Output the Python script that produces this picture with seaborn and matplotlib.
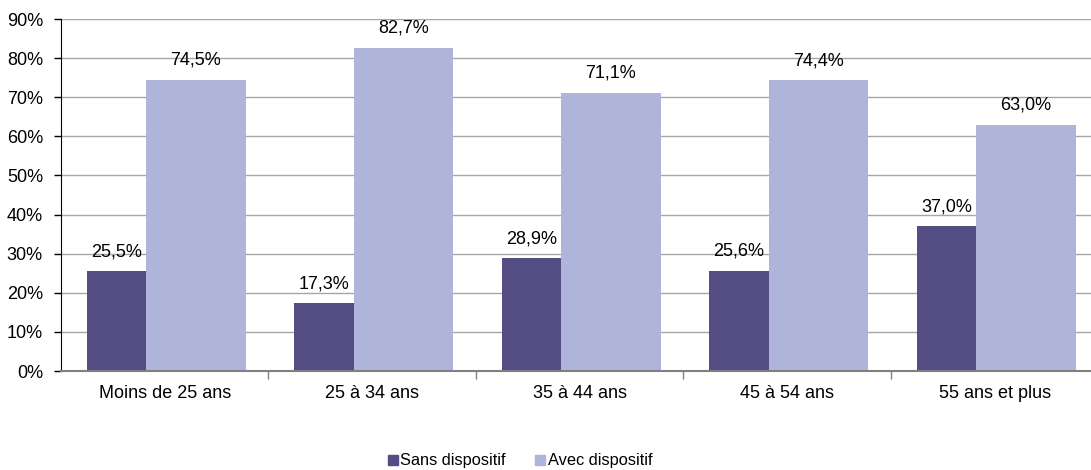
import pandas as pd
import matplotlib
matplotlib.use("Agg")
import matplotlib.pyplot as plt
import seaborn as sns
from matplotlib.patches import Patch
from matplotlib.ticker import FixedLocator

# Data
categories = ["Moins de 25 ans", "25 à 34 ans", "35 à 44 ans", "45 à 54 ans", "55 ans et plus"]
series = ["Sans dispositif", "Avec dispositif"]
sans = [25.5, 17.3, 28.9, 25.6, 37.0]
avec = [74.5, 82.7, 71.1, 74.4, 63.0]
colors = ["#534D84", "#AEB4DA"]

df = pd.DataFrame({
    "Age": categories * 2,
    "Groupe": [series[0]] * len(categories) + [series[1]] * len(categories),
    "Part": sans + avec,
})

sns.set_style("white")
plt.rcParams["font.family"] = ["Liberation Sans", "DejaVu Sans"]
plt.rcParams["text.color"] = "black"

fig = plt.figure(figsize=(10.91, 4.70), dpi=100)
ax = fig.add_axes([61 / 1091, 99 / 470, 1 - 61 / 1091, 352 / 470])

sns.barplot(data=df, x="Age", y="Part", hue="Groupe", hue_order=series,
            palette=colors, saturation=1, legend=False, linewidth=0,
            edgecolor="none", ax=ax)

# Excel-like bar widths: narrow dark bar, wide light bar
for i, bar in enumerate(ax.containers[0]):
    bar.set_x(i - 0.375)
    bar.set_width(0.285)
for i, bar in enumerate(ax.containers[1]):
    bar.set_x(i - 0.09)
    bar.set_width(0.48)

# data labels
for cont in ax.containers:
    for bar in cont:
        h = bar.get_height()
        ax.annotate(f"{h:.1f}%".replace(".", ","),
                    (bar.get_x() + bar.get_width() / 2, h),
                    xytext=(0, 14), textcoords="offset points",
                    ha="center", va="center", fontsize=13, color="black")

ax.set_ylim(0, 90)
ax.set_xlim(-0.5, 4.464)
ax.set_yticks(range(0, 91, 10))
ax.set_yticklabels([f"{v}%" for v in range(0, 91, 10)])
ax.yaxis.grid(True, color="#A6A6A6", linewidth=1)
ax.set_axisbelow(True)

ax.xaxis.set_minor_locator(FixedLocator([0.5, 1.5, 2.5, 3.5]))
ax.tick_params(axis="x", which="major", length=0, pad=10, labelsize=13, labelcolor="black")
ax.tick_params(axis="x", which="minor", length=6, width=1, color="#808080", direction="out")
ax.tick_params(axis="y", length=5, width=1, color="black", direction="out", pad=8,
               labelsize=13, labelcolor="black")
ax.tick_params(left=True, bottom=True, which="both")

ax.set_xlabel("")
ax.set_ylabel("")
for s in ["top", "right"]:
    ax.spines[s].set_visible(False)
ax.spines["left"].set_color("black")
ax.spines["bottom"].set_color("#808080")
ax.spines["bottom"].set_linewidth(1.5)

handles = [Patch(color=c, label=s) for c, s in zip(colors, series)]
fig.legend(handles=handles, loc="center", bbox_to_anchor=(520 / 1091, 1 - 461 / 470),
           ncol=2, frameon=False, fontsize=11.8, handlelength=0.6, handleheight=0.6,
           handletextpad=0.15, columnspacing=1.8, labelcolor="black")

fig.savefig("out.png", dpi=100)
